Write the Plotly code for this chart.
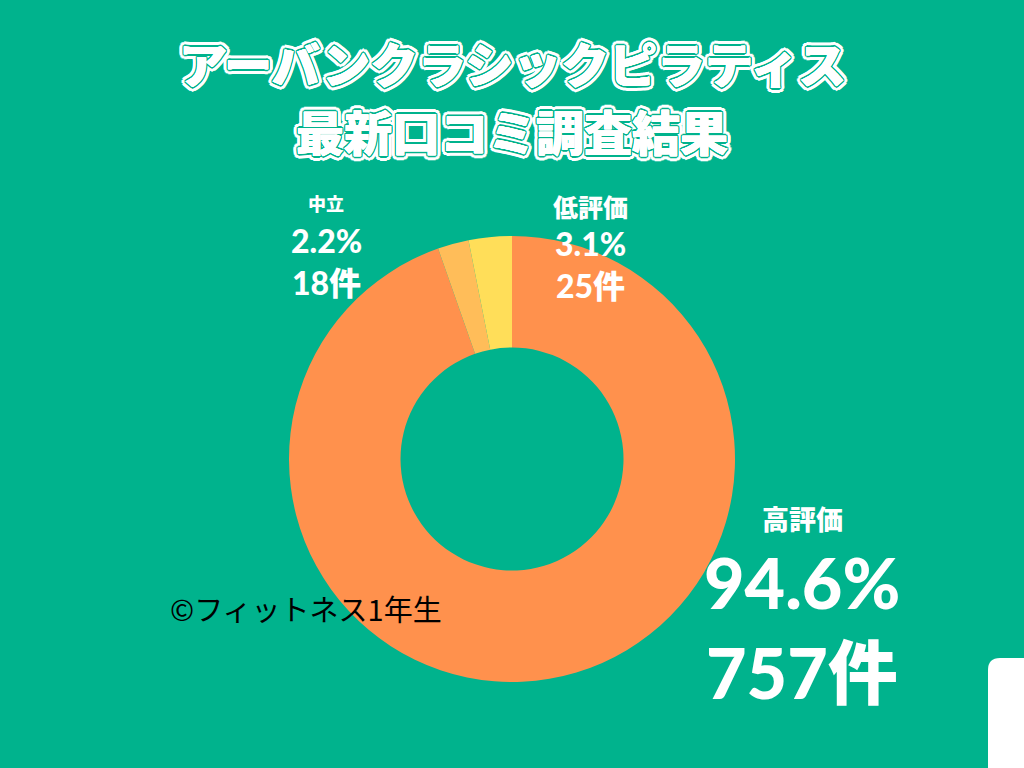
"""Donut chart of review results, Plotly version."""
import math

import plotly.graph_objects as go

BG = '#00B38D'

# drawn clockwise from 12 o'clock, so the small slices end up just left of the top
labels = ['高評価', '中立', '低評価']
counts = [757, 18, 25]
percents = ['94.6%', '2.2%', '3.1%']
colors = ['#FF914D', '#FFBD59', '#FFDE59']

title_lines = ['アーバンクラシックピラティス', '最新口コミ調査結果']
credit = '©フィットネス1年生'

W, H = 1024, 768


def px(x, y):
    """Pixel position -> paper coordinates (margins are zero)."""
    return x / W, 1 - y / H


def ring(radius, color, steps):
    parts = []
    for i in range(steps):
        a = 2 * math.pi * i / steps
        parts.append(f'{radius * math.cos(a):.1f}px {radius * math.sin(a):.1f}px 0 {color}')
    return parts


# white letters, thin green contour, then a thick white outline
title_shadow = ', '.join(ring(0.4, 'white', 4) + ring(1.6, BG, 12)
                         + ring(3.2, 'white', 16) + ring(4.6, 'white', 20))

fig = go.Figure()
fig.add_trace(go.Pie(
    labels=labels,
    values=counts,
    hole=0.5,
    sort=False,
    direction='clockwise',
    rotation=0,
    marker=dict(colors=colors, line=dict(width=0)),
    textinfo='none',
    hoverinfo='label+value+percent',
    showlegend=False,
    domain=dict(x=[(512 - 223) / W, (512 + 223) / W], y=[1 - 682 / H, 1 - 236 / H]),
))

annotations = []

# title
for text, y in zip(title_lines, [62, 130]):
    x0, y0 = px(512, y)
    annotations.append(dict(
        x=x0, y=y0, text=text, showarrow=False, xanchor='center', yanchor='middle',
        font=dict(family='Noto Sans CJK JP', size=48, color='white', weight=900,
                  shadow=title_shadow)))

num_font = 'Lato, Noto Sans CJK JP'

# slice labels: index, x, y of name / percent / count, name size, number size
slice_labels = [
    (0, 802, 518, 582, 672, 27, 70),
    (1, 326, 203, 240, 282, 18, 32),
    (2, 590, 206, 244, 286, 25, 32),
]
for i, x, yn, yp, yc, sn, sv in slice_labels:
    for text, y, size, fam in [(labels[i], yn, sn, 'Noto Sans CJK JP'),
                               (percents[i], yp, sv, num_font),
                               (f'{counts[i]}件', yc, sv, num_font)]:
        x0, y0 = px(x, y)
        annotations.append(dict(
            x=x0, y=y0, text=text, showarrow=False, xanchor='center', yanchor='middle',
            font=dict(family=fam, size=size, color='white', weight=900)))

x0, y0 = px(168, 608)
annotations.append(dict(
    x=x0, y=y0, text=credit, showarrow=False, xanchor='left', yanchor='middle',
    font=dict(family='Noto Sans CJK JP', size=29, color='black')))

fig.update_layout(
    width=W, height=H,
    margin=dict(l=0, r=0, t=0, b=0),
    paper_bgcolor=BG,
    plot_bgcolor=BG,
    annotations=annotations,
    shapes=[dict(
        type='path', xref='paper', yref='paper', layer='above',
        path=(f'M {988 / W} 0 L {988 / W} {1 - 670 / H} '
              f'Q {988 / W} {1 - 658 / H} {1000 / W} {1 - 658 / H} '
              f'L 1.01 {1 - 658 / H} L 1.01 0 Z'),
        fillcolor='white', line=dict(width=0))],
)

fig.write_html('out.html',
               config={'displayModeBar': False},
               post_script="document.body.style.margin='0';"
                           "document.body.style.overflow='hidden';")
